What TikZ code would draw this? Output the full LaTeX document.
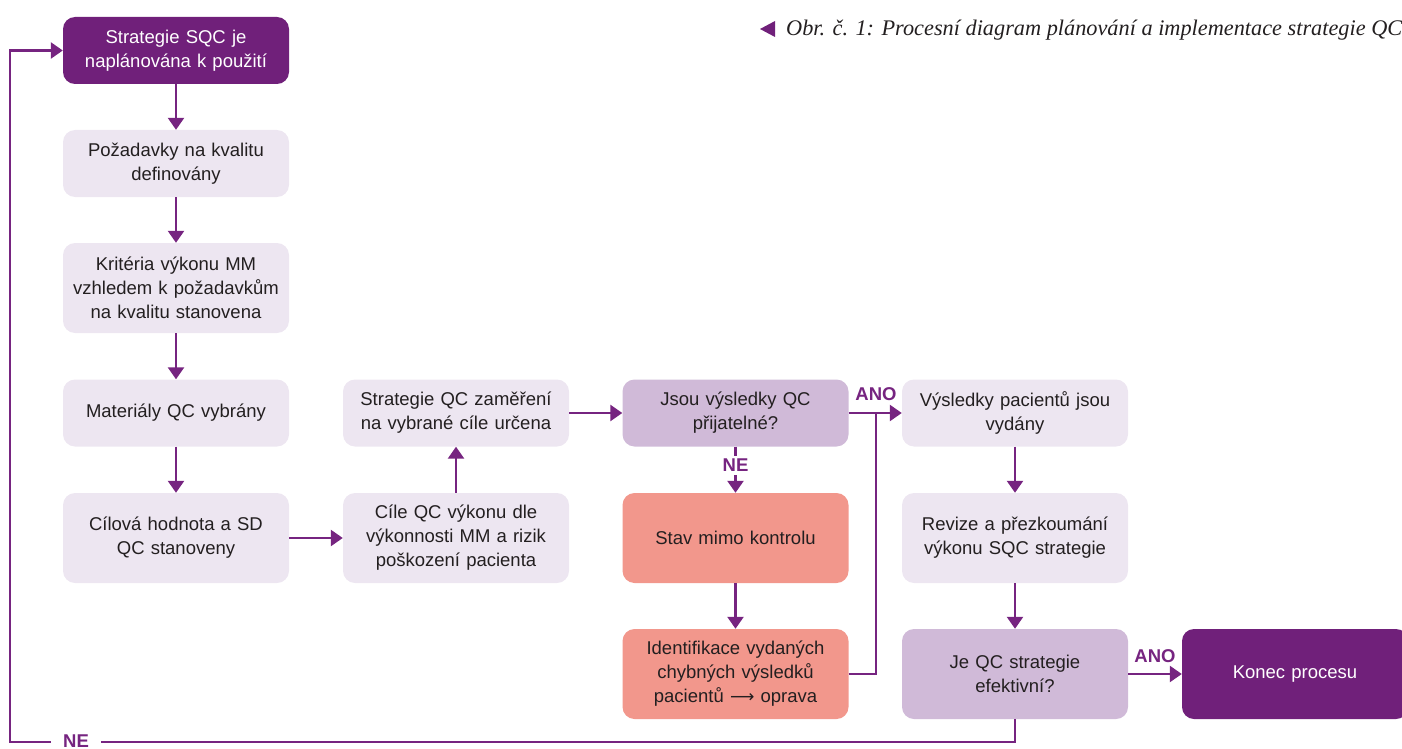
\documentclass[tikz,border=0pt]{standalone}
\usepackage{fontspec}
\setmainfont{Liberation Sans}
\newfontfamily\captfont{Liberation Serif}
\newfontfamily\symfont{DejaVu Sans}
\usetikzlibrary{arrows.meta}
\definecolor{darkpurple}{RGB}{112,32,122}
\definecolor{linepurple}{RGB}{118,36,128}
\definecolor{boxlite}{RGB}{237,230,241}
\definecolor{boxmid}{RGB}{208,186,216}
\definecolor{boxsalmon}{RGB}{242,151,140}
\definecolor{txtgray}{RGB}{35,31,32}
\begin{document}
\begin{tikzpicture}[x=1pt,y=-1pt,
  box/.style={rounded corners=12pt, inner sep=0pt, minimum width=226pt, minimum height=67pt,
    text width=212pt, align=center, font=\fontsize{18.5}{24}\selectfont, text=txtgray},
  tall/.style={minimum height=90pt},
  lite/.style={box, fill=boxlite},
  mid/.style={box, fill=boxmid},
  salmon/.style={box, fill=boxsalmon},
  dark/.style={box, fill=darkpurple, text=white},
  conn/.style={draw=linepurple, line width=2.5pt, -{Triangle[width=16pt,length=12pt]}},
  lbl/.style={font=\bfseries\fontsize{18.5}{18}\selectfont, text=linepurple, inner sep=2pt}]
\useasboundingbox (0,0) rectangle (1402,749);

%Caption
\fill[darkpurple] (775,21) -- (775,37) -- (760,29) -- cycle;
\node[anchor=base west, inner sep=0pt, text=txtgray] (capt) at (786,36)
  {\captfont\itshape\fontsize{22.3}{26}\selectfont Obr. č. 1: Procesní diagram plánování a implementace strategie QC};

%First column
\node[dark] (start) at (176,50.5) {Strategie SQC je\\naplánována k použití};
\node[lite] (req) at (176,163.5) {Požadavky na kvalitu\\definovány};
\node[lite, tall] (crit) at (176,288) {Kritéria výkonu MM\\vzhledem k požadavkům\\na kvalitu stanovena};
\node[lite] (mat) at (176,413) {Materiály QC vybrány};
\node[lite, tall] (target) at (176,538) {Cílová hodnota a SD\\QC stanoveny};

%Second column
\node[lite, tall] (goals) at (456,538) {Cíle QC výkonu dle\\výkonnosti MM a rizik\\poškození pacienta};
\node[lite] (strat) at (456,413) {Strategie QC zaměření\\na vybrané cíle určena};

%Third column
\node[mid] (ok) at (735.5,413) {Jsou výsledky QC\\přijatelné?};
\node[salmon, tall] (ooc) at (735.5,538) {Stav mimo kontrolu};
\node[salmon, tall] (ident) at (735.5,674) {Identifikace vydaných\\chybných výsledků\\pacientů {\symfont\fontsize{17}{24}\selectfont ⟶} oprava};

%Fourth column
\node[lite] (rel) at (1015,413) {Výsledky pacientů jsou\\vydány};
\node[lite, tall] (rev) at (1015,538) {Revize a přezkoumání\\výkonu SQC strategie};
\node[mid, tall] (eff) at (1015,674) {Je QC strategie\\efektivní?};
\node[dark, tall] (finish) at (1295,674) {Konec procesu};

%Connectors
\draw[conn] (start) -- (req);
\draw[conn] (req) -- (crit);
\draw[conn] (crit) -- (mat);
\draw[conn] (mat) -- (target);
\draw[conn] (target) -- (goals);
\draw[conn] (goals) -- (strat);
\draw[conn] (strat) -- (ok);
\draw[conn] (ok) -- node[lbl, fill=white, inner ysep=3pt, pos=0.4] (ne1) {NE} (ooc);
\draw[conn] (ooc) -- (ident);
\draw[conn] (ok) -- (rel);
\coordinate (join) at (876,413);
\draw[draw=linepurple, line width=2.5pt] (ident.east) -| (join);
\draw[conn] (rel) -- (rev);
\draw[conn] (rev) -- (eff);
\draw[conn] (eff) -- (finish);
\coordinate (loopbr) at (10,742);
\draw[conn] (eff.south) |- (loopbr) |- (start.west);

% Text Node
\node[lbl, anchor=base] (ano1) at (876,400) {ANO};
% Text Node
\node[lbl, anchor=base] (ano2) at (1155,662) {ANO};
% Text Node
\node[lbl, fill=white, inner xsep=12pt, inner ysep=0.5pt, anchor=base] (ne2) at (76,747) {NE};
\end{tikzpicture}
\end{document}
